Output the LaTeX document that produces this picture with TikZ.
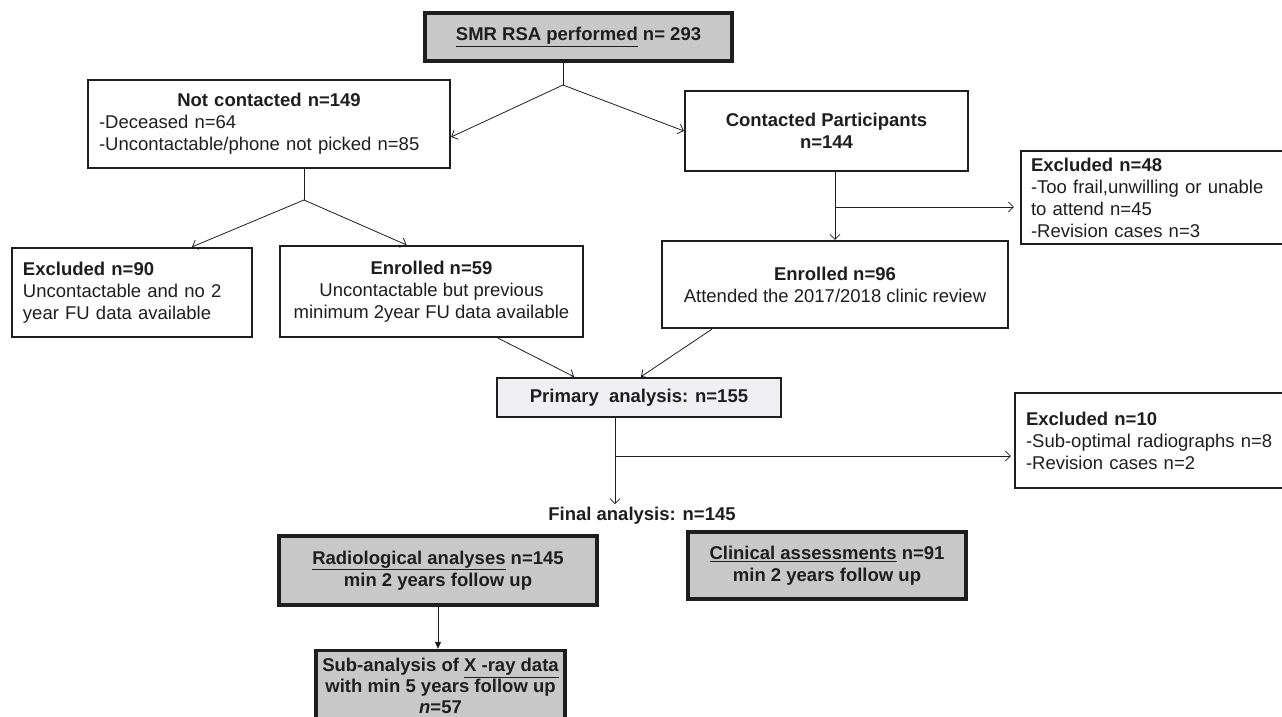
\documentclass[tikz,border=0pt]{standalone}
\usepackage{fontspec}
\setmainfont{Liberation Sans}
\usetikzlibrary{arrows.meta}
\definecolor{boxgray}{RGB}{200,200,200}
\definecolor{primgray}{RGB}{240,240,242}
\definecolor{edge}{RGB}{30,30,30}
\tikzset{
  plainbox/.style={draw=edge, line width=2.2pt, inner sep=0pt, align=center},
  leftbox/.style={plainbox, align=left},
  shadebox/.style={plainbox, fill=boxgray, line width=3.4pt},
  bold/.style={font=\fontsize{18.5}{22}\selectfont\bfseries},
  link/.style={draw=edge, line width=0.8pt},
}
\begin{document}
\begin{tikzpicture}[x=1pt,y=-1pt,>={Straight Barb[length=5pt,width=10pt]},
    every node/.style={font=\fontsize{18.5}{22}\selectfont, text=edge}]
  \useasboundingbox (0,0) rectangle (1282,716);
  % first level
  \node[shadebox, bold, line width=3.8pt, minimum width=307pt, minimum height=48pt] (smr) at (578.5,37)
    {\underline{SMR RSA performed} n= 293};
  \node[leftbox, minimum width=362pt, minimum height=88pt, text width=340pt, inner xsep=11pt] (notc) at (269,124)
    {\makebox[340pt]{\bfseries Not contacted n=149}\\-Deceased n=64\\-Uncontactable/phone not picked n=85};
  \node[plainbox, bold, minimum width=283pt, minimum height=80pt] (cont) at (826.5,131)
    {Contacted Participants\\n=144};
  \node[leftbox, minimum width=279pt, minimum height=93pt, text width=259pt, inner xsep=10pt] (exc48) at (1160.5,197.5)
    {\textbf{Excluded n=48}\\-Too frail,unwilling or unable\\to attend n=45\\-Revision cases n=3};
  % second level
  \node[leftbox, minimum width=240pt, minimum height=89pt, text width=218pt, inner xsep=11pt] (exc90) at (132,292.5)
    {\textbf{Excluded n=90}\\Uncontactable and no 2\\year FU data available};
  \node[plainbox, minimum width=303pt, minimum height=91pt] (enr59) at (431.5,291.5)
    {\textbf{Enrolled n=59}\\Uncontactable but previous\\minimum 2year FU data available};
  \node[plainbox, minimum width=346pt, minimum height=87pt] (enr96) at (835,284.5)
    {\textbf{Enrolled n=96}\\Attended the 2017/2018 clinic review};
  % analysis
  \node[plainbox, bold, fill=primgray, line width=2.6pt, minimum width=284pt, minimum height=39pt] (prim) at (639,397.5)
    {Primary\ \ analysis: n=155};
  \node[leftbox, minimum width=285pt, minimum height=95pt, text width=263pt, inner xsep=11pt] (exc10) at (1157.5,440.5)
    {\textbf{Excluded n=10}\\-Sub-optimal radiographs n=8\\-Revision cases n=2};
  \node[bold, inner sep=3pt] (final) at (642,516) {Final analysis: n=145};
  \node[shadebox, bold, minimum width=318pt, minimum height=69pt] (radio) at (438,570.5)
    {\underline{Radiological analyses} n=145\\min 2 years follow up};
  \node[shadebox, bold, minimum width=278pt, minimum height=67pt] (clin) at (827,565.5)
    {\underline{Clinical assessments} n=91\\min 2 years follow up};
  \node[shadebox, bold, font=\fontsize{18.5}{21}\selectfont\bfseries, minimum width=249pt, minimum height=71pt] (sub) at (440.5,686)
    {Sub-analysis of \underline{X -ray data}\\with min 5 years follow up\\\textit{n}=57};
  % forks
  \coordinate (fork1) at (563,85);
  \coordinate (fork2) at (304,200);
  \coordinate (fork3) at (835,207);
  \coordinate (fork4) at (615,456);
  \draw[link] (fork1 |- smr.south) -- (fork1);
  \draw[link,->] (fork1) -- ([yshift=-13pt]notc.east);
  \draw[link,->] (fork1) -- (cont.west);
  \draw[link] (fork2 |- notc.south) -- (fork2);
  \draw[link,->] (fork2) -- ([xshift=60pt]exc90.north);
  \draw[link,->] (fork2) -- ([xshift=-25pt]enr59.north);
  \draw[link,->] (cont.south -| fork3) -- (fork3 |- enr96.north);
  \draw[link,->,shorten >=6pt] (fork3) -- (fork3 -| exc48.west);
  \draw[link,->] ([xshift=66.5pt]enr59.south) -- ([xshift=-65pt]prim.north);
  \draw[link,->] ([xshift=-123pt]enr96.south) -- ([xshift=2pt]prim.north);
  \draw[link,->] (prim.south -| fork4) -- (fork4 |- final.north);
  \draw[link,->,shorten >=3pt] (fork4) -- (fork4 -| exc10.west);
  \draw[link,-{Triangle[length=7pt,width=6pt]}] (radio.south) -- (radio.south |- sub.north);
\end{tikzpicture}
\end{document}
